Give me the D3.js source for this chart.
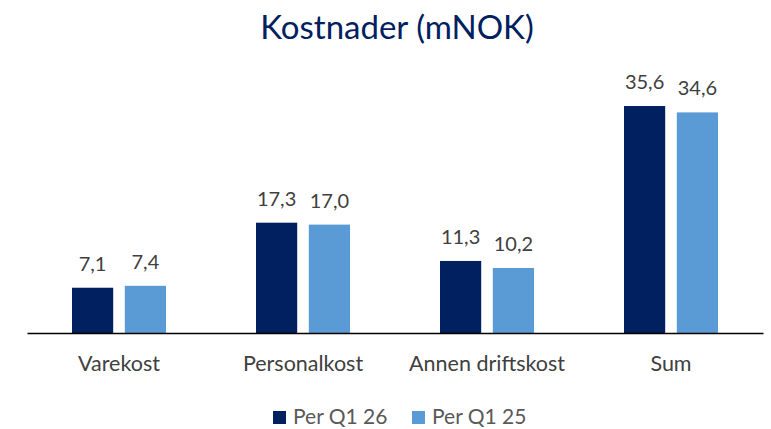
<!DOCTYPE html>
<html>
<head>
<meta charset="utf-8">
<script src="https://cdn.jsdelivr.net/npm/d3@7"></script>
<style>
  body { margin: 0; background: #fff; }
  text { font-family: Lato, "Open Sans", sans-serif; }
</style>
</head>
<body>
<div id="chart"></div>
<script>
// data
var categories = ["Varekost", "Personalkost", "Annen driftskost", "Sum"];
var seriesNames = ["Per Q1 26", "Per Q1 25"];
var q126 = [7.1, 17.3, 11.3, 35.6];
var q125 = [7.4, 17.0, 10.2, 34.6];
var seriesColors = ["#002060", "#5B9BD5"];

var width = 771, height = 429;
var baseY = 333;

var svg = d3.select("#chart").append("svg")
    .attr("width", width)
    .attr("height", height);

svg.append("text")
    .attr("x", 397)
    .attr("y", 39)
    .attr("text-anchor", "middle")
    .style("font-size", "33px")
    .style("fill", "#002060")
    .text("Kostnader (mNOK)");

var x0 = d3.scaleBand()
    .domain(categories)
    .range([27, 763])
    .padding(0);

var x1 = d3.scaleBand()
    .domain(seriesNames)
    .range([45, 139])
    .paddingInner(0.22);

var y = d3.scaleLinear()
    .domain([0, 40])
    .range([baseY, baseY - 40 * 6.376]);

var rows = categories.map(function (c, i) {
    return { cat: c, vals: [q126[i], q125[i]] };
});

var groups = svg.selectAll(".grp")
    .data(rows)
    .enter().append("g")
    .attr("class", "grp")
    .attr("transform", function (d) { return "translate(" + x0(d.cat) + ",0)"; });

var fmt = function (v) { return v.toFixed(1).replace(".", ","); };

groups.selectAll("rect")
    .data(function (d) { return d.vals.map(function (v, j) { return { s: seriesNames[j], v: v, j: j }; }); })
    .enter().append("rect")
    .attr("x", function (d) { return x1(d.s); })
    .attr("y", function (d) { return y(d.v); })
    .attr("width", x1.bandwidth())
    .attr("height", function (d) { return baseY - y(d.v); })
    .style("fill", function (d) { return seriesColors[d.j]; });

groups.selectAll(".lbl")
    .data(function (d) { return d.vals.map(function (v, j) { return { s: seriesNames[j], v: v }; }); })
    .enter().append("text")
    .attr("class", "lbl")
    .attr("x", function (d) { return x1(d.s) + x1.bandwidth() / 2; })
    .attr("y", function (d) { return y(d.v) - 17; })
    .attr("text-anchor", "middle")
    .style("font-size", "20px")
    .style("fill", "#404040")
    .text(function (d) { return fmt(d.v); });

// axis
var xAxis = d3.axisBottom(x0).tickSize(0).tickPadding(23);
var ax = svg.append("g")
    .attr("transform", "translate(0," + baseY + ")")
    .call(xAxis);
ax.select(".domain").attr("stroke", "#000").attr("stroke-width", 1.5);
ax.selectAll("text")
    .style("font-size", "21.5px")
    .style("fill", "#404040")
    .style("font-family", "Lato, 'Open Sans', sans-serif");

// legend
var legend = svg.append("g").attr("transform", "translate(273,411)");
var legItems = legend.selectAll(".leg")
    .data(seriesNames)
    .enter().append("g")
    .attr("class", "leg")
    .attr("transform", function (d, i) { return "translate(" + (i * 139) + ",0)"; });
legItems.append("rect")
    .attr("width", 13)
    .attr("height", 13)
    .style("fill", function (d, i) { return seriesColors[i]; });
legItems.append("text")
    .attr("x", 20)
    .attr("y", 13)
    .style("font-size", "21px")
    .style("fill", "#595959")
    .text(function (d) { return d; });
</script>
</body>
</html>
